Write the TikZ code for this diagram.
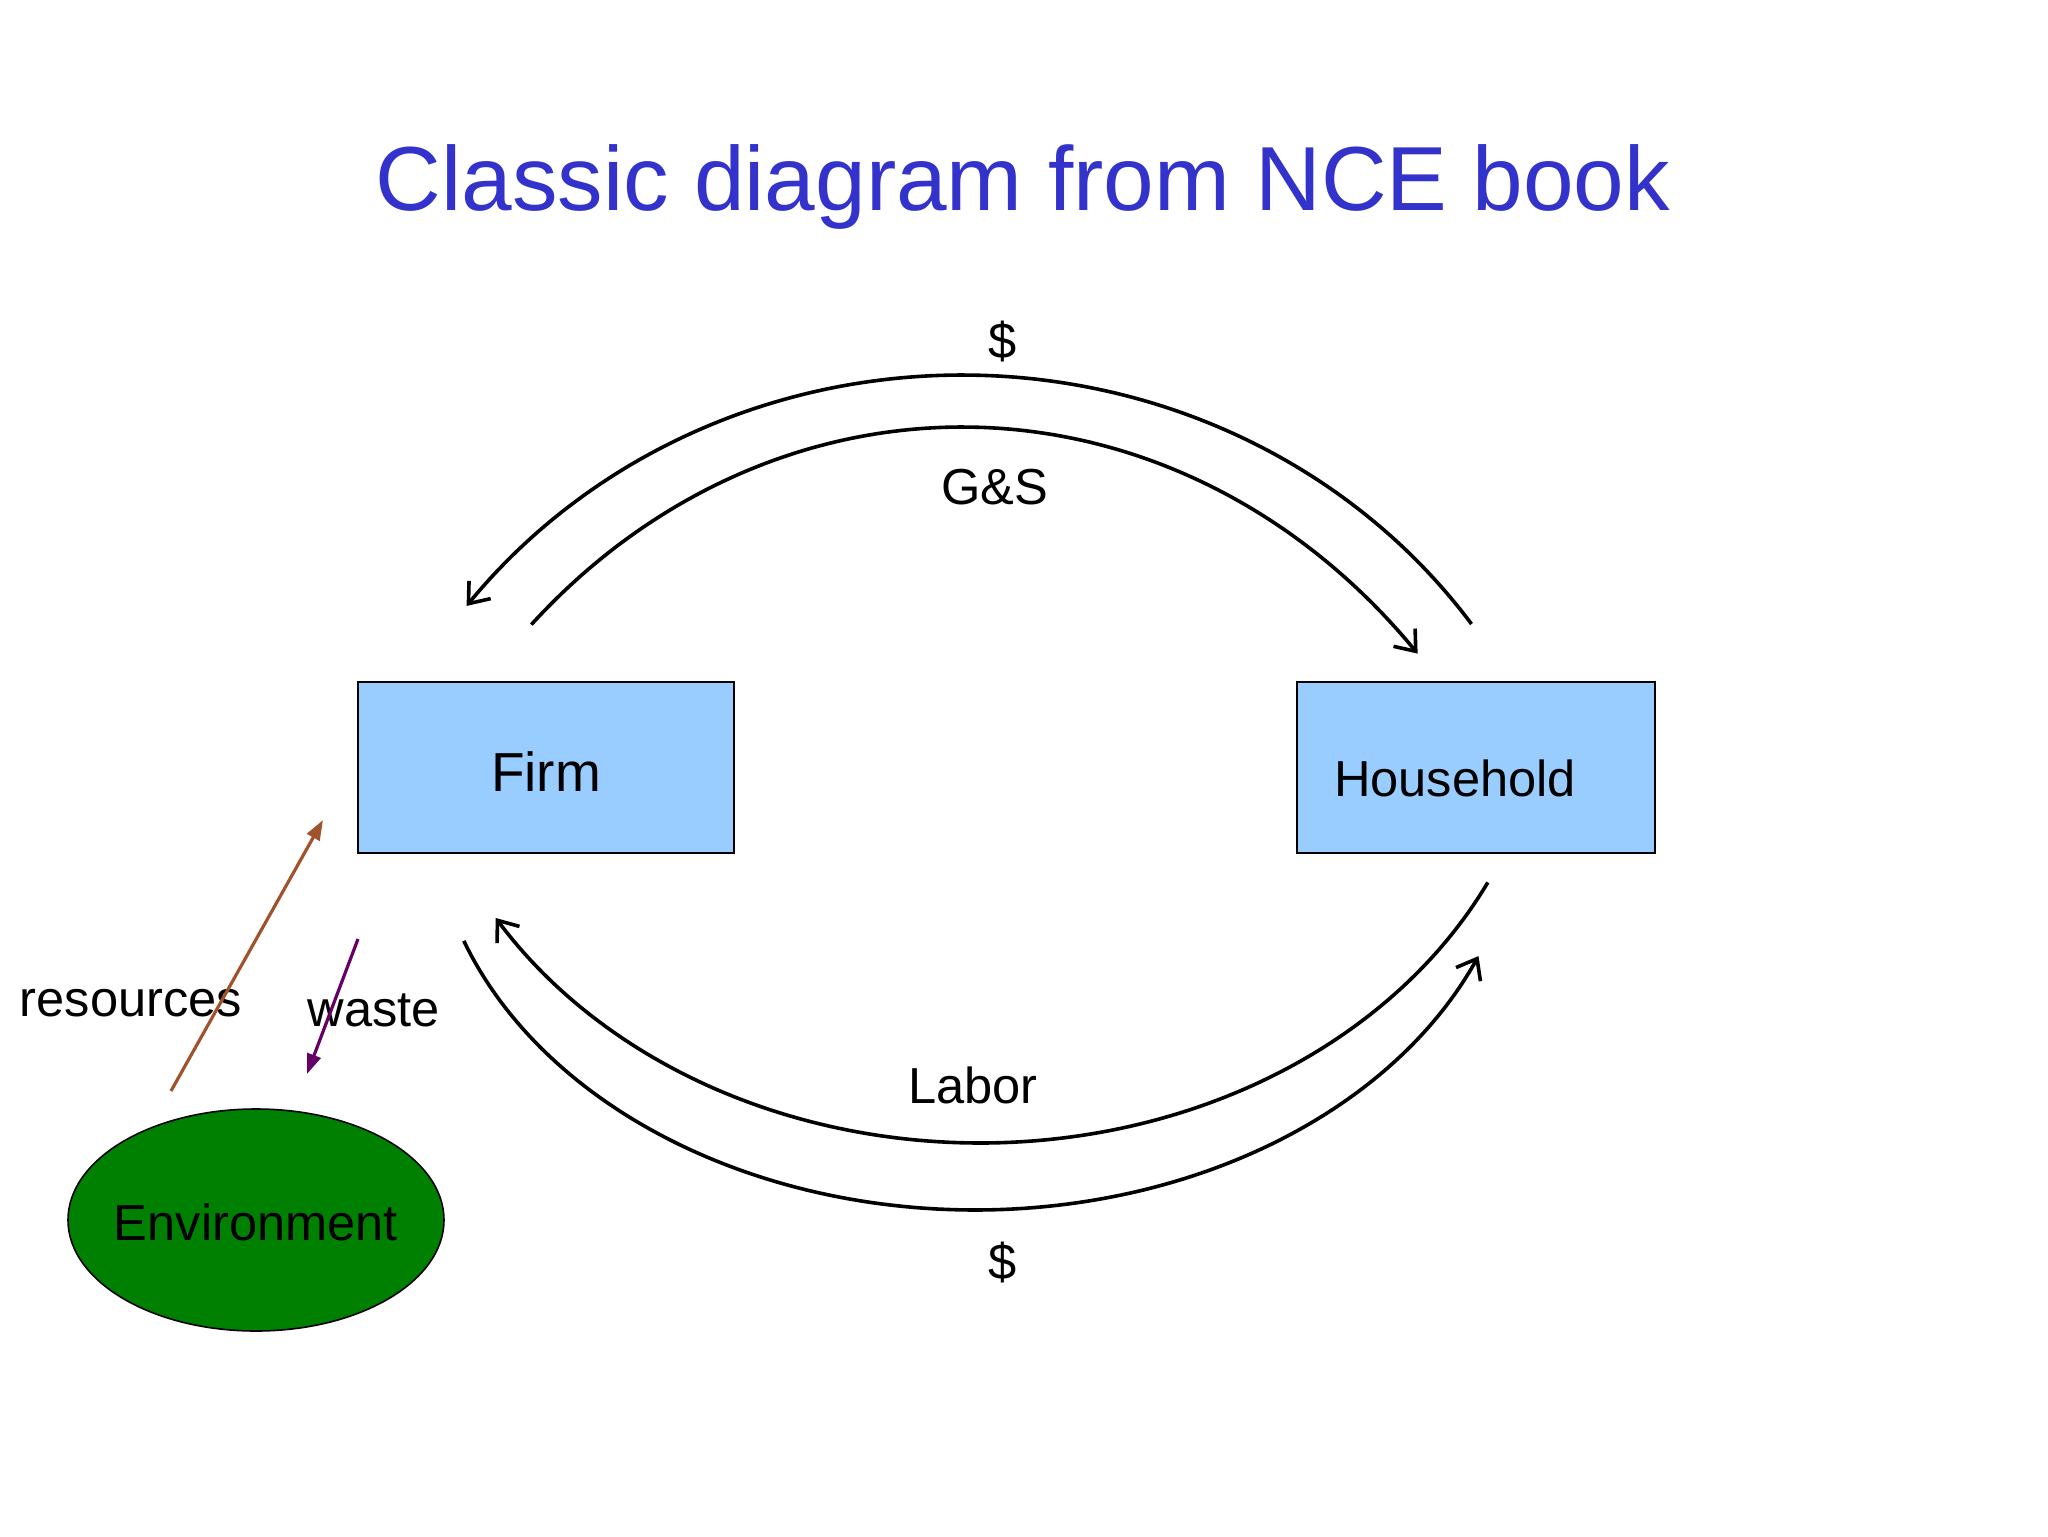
\documentclass[tikz,border=0pt]{standalone}
\usepackage{fontspec}
\setmainfont{Liberation Sans}
\usetikzlibrary{arrows.meta,shapes.geometric}
\definecolor{titleblue}{RGB}{51,51,204}
\definecolor{boxblue}{RGB}{153,204,255}
\definecolor{envgreen}{RGB}{0,128,0}
\definecolor{resbrown}{RGB}{160,82,45}
\definecolor{wastepurple}{RGB}{102,0,102}
\tikzset{
  flow/.style={line width=1.8pt, -{Straight Barb[length=9pt,width=14pt,line width=1.8pt]}},
  box/.style={draw=black, line width=1pt, fill=boxblue, inner sep=0pt},
  lbl/.style={font=\fontsize{25.3}{30}\selectfont, inner sep=0pt},
  small/.style={line width=1.6pt, -{Triangle[length=10pt,width=7pt]}},
}
\begin{document}
\begin{tikzpicture}[x=0.5pt,y=-0.5pt]
\useasboundingbox (0,0) rectangle (2048,1536);
\fill[white] (0,0) rectangle (2048,1536);
% title
\node[text=titleblue, font=\fontsize{45.5}{54}\selectfont, inner sep=0pt] (title) at (1023,187) {Classic diagram from NCE book};
% boxes
\node[box, minimum width=188pt, minimum height=85.5pt] (firm) at (546,767.5) {};
\node[lbl, font=\fontsize{27.5}{33}\selectfont] (firmtxt) at (546,772) {Firm};
\node[box, minimum width=179pt, minimum height=85.5pt] (house) at (1476,767.5) {};
\node[lbl] (housetxt) at (1455,778) {Household};
\node[ellipse, draw=black, line width=0.8pt, fill=envgreen, minimum width=188pt, minimum height=111pt, inner sep=0pt] (env) at (256,1220) {};
\node[lbl] (envtxt) at (256,1222) {Environment};
% circular-flow arcs (elliptical)
\draw[flow] plot[domain=35:142.8, samples=120, variable=\t] ({962+622*cos(\t)}, {959-584*sin(\t)});
\draw[flow] plot[domain=134:42.7, samples=120, variable=\t] ({962+620*cos(\t)}, {1131-704*sin(\t)});
\draw[flow] plot[domain=26:149, samples=120, variable=\t] ({980+565*cos(\t)}, {679+464*sin(\t)});
\draw[flow] plot[domain=160.3:22, samples=120, variable=\t] ({975+543*cos(\t)}, {804+406*sin(\t)});
% labels
\node[lbl] (dtop) at (1003,342) {\$};
\node[lbl] (gs) at (995,487) {G\&S};
\node[lbl] (labor) at (973,1085) {Labor};
\node[lbl] (dbot) at (1003,1263) {\$};
% resources and waste
\coordinate (rs) at (171,1091);
\coordinate (re) at (323,820);
\coordinate (ws) at (358,939);
\coordinate (we) at (307,1074);
\node[lbl] (restxt) at (131,1003) {resources};
\node[lbl] (wastetxt) at (374,1010) {waste};
\draw[resbrown, small] (rs) -- (re);
\draw[wastepurple, small] (ws) -- (we);
\end{tikzpicture}
\end{document}
